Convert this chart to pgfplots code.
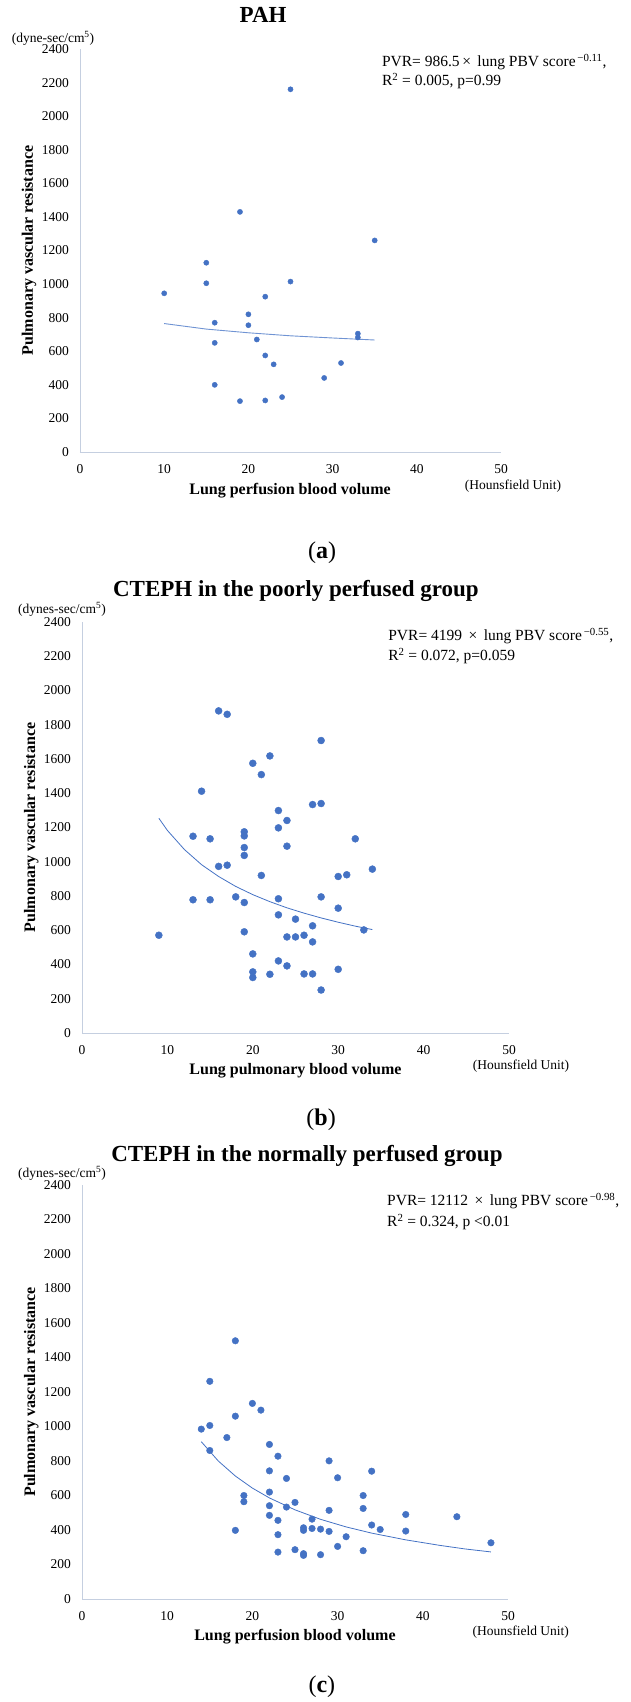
\documentclass[border=0pt]{standalone}
\usepackage{fontspec}
\setmainfont{Liberation Serif}
\usepackage{pgfplots}
\pgfplotsset{compat=1.18}

\definecolor{dotblue}{HTML}{4472C4}
\definecolor{fitblue}{HTML}{6F93D3}
\definecolor{axisgray}{HTML}{C5CFE0}

\pgfplotsset{
  pbv/.style={
    scale only axis,
    clip=false,
    xmin=0, xmax=50, ymin=0, ymax=2400,
    xtick={0,10,...,50},
    ytick={0,200,...,2400},
    axis x line*=bottom,
    axis y line*=left,
    x axis line style={-},
    y axis line style={-},
    axis line style={axisgray, line width=0.9pt},
    major tick length=0pt,
    scaled ticks=false,
    /pgf/number format/1000 sep={},
    /pgf/number format/assume math mode=true,
    tick label style={font=\fontsize{13.5}{15}\selectfont},
    xticklabel style={yshift=-9pt},
    yticklabel style={xshift=-7.5pt},
    label style={font=\bfseries\fontsize{16}{18}\selectfont},
    title style={font=\bfseries\fontsize{23}{25}\selectfont, anchor=center},
  },
  dots/.style={only marks, mark=*, mark options={fill=dotblue, draw=dotblue}, color=dotblue},
}
\tikzset{
  eqtxt/.style={font=\fontsize{15.5}{17}\selectfont, anchor=west, inner sep=0pt},
  unittxt/.style={font=\fontsize{13.5}{15}\selectfont, inner sep=0pt},
  captxt/.style={font=\fontsize{24}{26}\selectfont, inner sep=0pt},
}

\pgfplotstableread{
x y
10 945
15 1005
15 1127
16 770
16 650
16 400
19 1430
19 303
20 820
20 755
21 670
22 925
22 575
22 307
23 522
24 327
25 2160
25 1015
29 441
31 530
33 705
33 682
35 1260
}\pahdata

\pgfplotstableread{
x y
9 571
13 778
13 1149
14 1412
15 778
15 1134
16 973
16 1881
17 980
17 1861
18 795
19 762
19 1037
19 591
19 1083
19 1151
19 1175
20 462
20 357
20 324
20 1575
21 920
21 1509
22 343
22 1618
23 784
23 690
23 421
23 1299
23 1198
24 561
24 392
24 1241
24 1091
25 665
25 561
26 571
26 345
27 626
27 532
27 345
27 1334
28 795
28 251
28 1340
28 1708
30 914
30 729
30 372
31 924
32 1134
33 602
34 957
}\poordata

\pgfplotstableread{
x y
14 985
15 1006
15 861
15 1262
17 936
18 1060
18 1497
18 398
19 600
19 564
20 1134
21 1095
22 896
22 743
22 620
22 541
22 485
23 828
23 456
23 373
23 272
24 699
24 533
25 560
25 286
26 413
26 398
26 263
26 253
27 463
27 409
28 405
28 257
29 801
29 514
29 392
30 703
30 305
31 361
33 600
33 525
33 280
34 741
34 429
35 403
38 490
38 394
44 477
48 326
}\normaldata

\begin{document}
\begin{tikzpicture}
\path[use as bounding box] (0,0) rectangle (631pt,-1702pt);

% (a) PAH
\begin{axis}[pbv,
  at={(80pt,-452pt)}, anchor=south west,
  width=421pt, height=403pt,
  title={PAH},
  title style={at={(axis description cs:0.435,1)}, yshift=28pt},
  xlabel={Lung perfusion blood volume},
  xlabel style={at={(axis description cs:0.499,0)}, anchor=center, yshift=-39pt},
  ylabel={Pulmonary vascular resistance},
  ylabel style={at={(axis description cs:-0.121,0.5)}, anchor=center},
]
\addplot[fitblue, line width=0.9pt] coordinates {(10,765) (15,732) (20,710) (25,692) (30,679) (35,667)};
\addplot[dots, mark size=2.6pt] table[x=x, y=y] {\pahdata};
\node[unittxt] at (axis description cs:0,1) [xshift=-27pt, yshift=11pt] {(dyne-sec/cm\textsuperscript{5})};
\node[eqtxt] at (axis description cs:0.717,1) [yshift=-13pt] {PVR= 986.5\,×\, lung PBV score\textsuperscript{\,−0.11},};
\node[eqtxt] at (axis description cs:0.717,1) [yshift=-32pt] {R\textsuperscript{2} = 0.005, p=0.99};
\node[unittxt] at (axis description cs:1.0285,0) [yshift=-34pt] {(Hounsfield Unit)};
\node[captxt] at (axis description cs:0.575,0) [yshift=-101pt] {(\textbf{a})};
\end{axis}

% (b) CTEPH poorly perfused
\begin{axis}[pbv,
  at={(82pt,-1033pt)}, anchor=south west,
  width=427pt, height=411pt,
  title={CTEPH in the poorly perfused group},
  title style={at={(axis description cs:0.501,1)}, yshift=25pt},
  xlabel={Lung pulmonary blood volume},
  xlabel style={at={(axis description cs:0.5,0)}, anchor=center, yshift=-38pt},
  ylabel={Pulmonary vascular resistance},
  ylabel style={at={(axis description cs:-0.119,0.5)}, anchor=center},
]
\addplot[dotblue, line width=0.8pt] coordinates {(9,1254) (10,1183) (12,1071) (14,983) (16,914) (18,856) (20,808) (22,767) (24,731) (26,700) (28,672) (30,647) (32,624) (34,604)};
\addplot[dots, mark size=3.5pt] table[x=x, y=y] {\poordata};
\node[unittxt] at (axis description cs:0,1) [xshift=-20pt, yshift=13pt] {(dynes-sec/cm\textsuperscript{5})};
\node[eqtxt] at (axis description cs:0.717,1) [yshift=-14pt] {PVR= 4199 \,×\, lung PBV score\textsuperscript{\,−0.55},};
\node[eqtxt] at (axis description cs:0.717,1) [yshift=-34pt] {R\textsuperscript{2} = 0.072, p=0.059};
\node[unittxt] at (axis description cs:1.028,0) [yshift=-33pt] {(Hounsfield Unit)};
\node[captxt] at (axis description cs:0.56,0) [yshift=-87pt] {(\textbf{b})};
\end{axis}

% (c) CTEPH normally perfused
\begin{axis}[pbv,
  at={(82pt,-1599pt)}, anchor=south west,
  width=426pt, height=414pt,
  title={CTEPH in the normally perfused group},
  title style={at={(axis description cs:0.528,1)}, yshift=23pt},
  xlabel={Lung perfusion blood volume},
  xlabel style={at={(axis description cs:0.5,0)}, anchor=center, yshift=-38pt},
  ylabel={Pulmonary vascular resistance},
  ylabel style={at={(axis description cs:-0.119,0.5)}, anchor=center},
]
\addplot[dotblue, line width=0.8pt] coordinates {(14,912) (16,800) (18,713) (20,643) (22,586) (25,517) (28,462) (31,418) (34,382) (38,343) (42,311) (45,290) (48,273)};
\addplot[dots, mark size=3.3pt] table[x=x, y=y] {\normaldata};
\node[unittxt] at (axis description cs:0,1) [xshift=-20pt, yshift=12pt] {(dynes-sec/cm\textsuperscript{5})};
\node[eqtxt] at (axis description cs:0.716,1) [yshift=-16pt] {PVR= 12112 \,×\, lung PBV score\textsuperscript{\,−0.98},};
\node[eqtxt] at (axis description cs:0.716,1) [yshift=-37pt] {R\textsuperscript{2} = 0.324, p <0.01};
\node[unittxt] at (axis description cs:1.03,0) [yshift=-33pt] {(Hounsfield Unit)};
\node[captxt] at (axis description cs:0.563,0) [yshift=-88pt] {(\textbf{c})};
\end{axis}
\end{tikzpicture}
\end{document}
